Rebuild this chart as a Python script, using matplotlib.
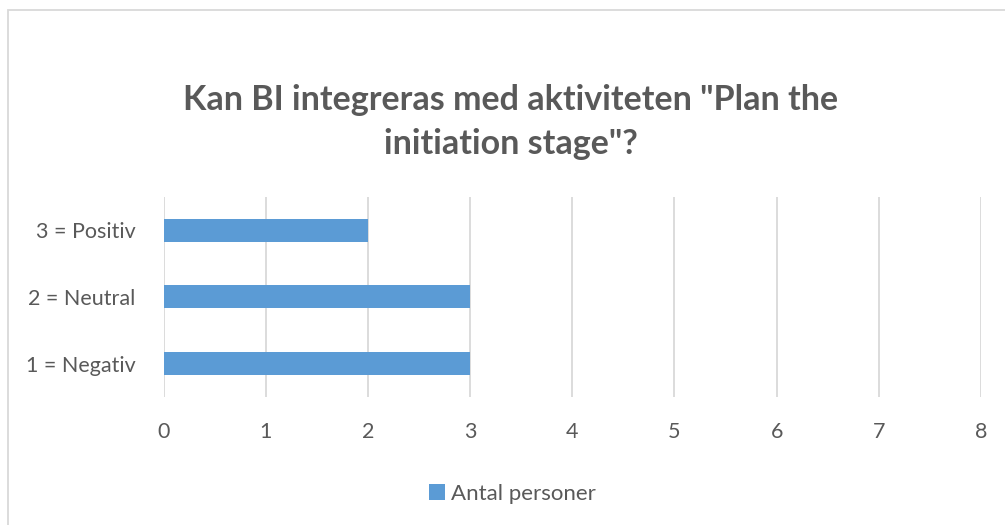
import matplotlib
matplotlib.use("Agg")
import matplotlib.pyplot as plt
from matplotlib.patches import Rectangle

categories = ["1 = Negativ", "2 = Neutral", "3 = Positiv"]
values = [3, 3, 2]
series_name = "Antal personer"
title = 'Kan BI integreras med aktiviteten "Plan the\ninitiation stage"?'

bar_color = "#5B9BD5"
text_color = "#595959"
grid_color = "#D9D9D9"

plt.rcParams['font.family'] = ['Lato', 'DejaVu Sans']

fig = plt.figure(figsize=(10.05, 5.25), dpi=100)
ax = fig.add_axes([0.1627, 0.2438, 0.8134, 0.381])

ax.barh(range(len(categories)), values, height=0.345, color=bar_color,
        label=series_name, zorder=3)
ax.set_xlim(0, 8)
ax.set_ylim(-0.5, len(categories) - 0.5)
ax.set_yticks(range(len(categories)))
ax.set_yticklabels(categories)
ax.set_xticks(range(0, 9))

ax.grid(axis="x", color=grid_color, linewidth=1.3, zorder=0)
for s in ax.spines.values():
    s.set_visible(False)
ax.tick_params(length=0, colors=text_color, labelsize=15.5)
ax.tick_params(axis="x", pad=18)
ax.tick_params(axis="y", pad=20)

fig.text(0.508, 0.768, title, ha="center", va="center", fontsize=24.5,
         fontweight="bold", color=text_color, linespacing=1.45)

leg = fig.legend(loc="center", bbox_to_anchor=(0.51, 0.06), frameon=False,
                 fontsize=16, handlelength=0.7, handleheight=0.7,
                 handletextpad=0.3)
for t in leg.get_texts():
    t.set_color(text_color)

# chart area border
fig.patches.append(Rectangle((8 / 1005, -0.01), 1.0, 1 - 10 / 525 + 0.01,
                             transform=fig.transFigure, fill=False,
                             edgecolor=grid_color, linewidth=1.3))

fig.savefig("out.png", dpi=100)
